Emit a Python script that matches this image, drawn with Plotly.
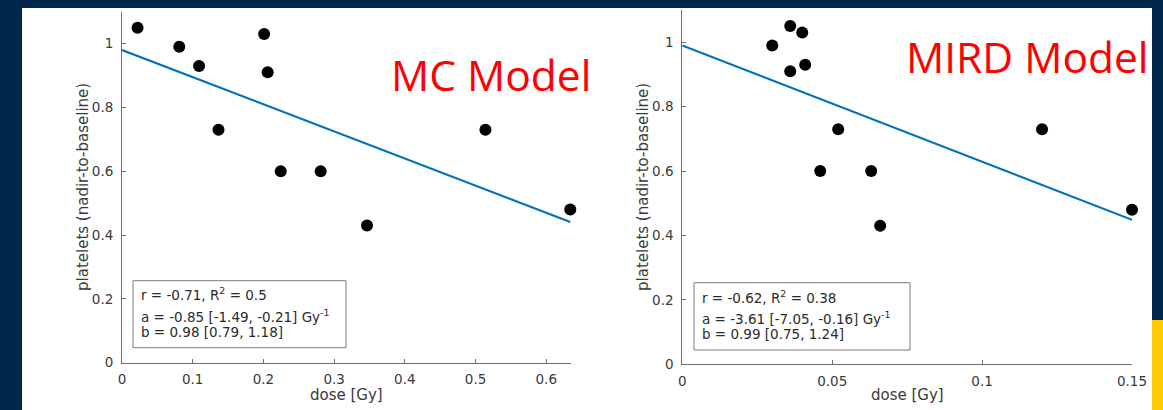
import plotly.graph_objects as go

# ---- data ----
dose_mc = [0.022, 0.081, 0.109, 0.1365, 0.201, 0.206, 0.2245, 0.281, 0.3465, 0.514, 0.634]
plt_mc = [1.05, 0.99, 0.93, 0.73, 1.03, 0.91, 0.60, 0.60, 0.43, 0.73, 0.48]
dose_mird = [0.030, 0.036, 0.040, 0.036, 0.041, 0.052, 0.046, 0.063, 0.066, 0.120, 0.150]
plt_mird = [0.99, 1.05, 1.03, 0.91, 0.93, 0.73, 0.60, 0.60, 0.43, 0.73, 0.48]
fit_mc = {"a": -0.85, "b": 0.98}
fit_mird = {"a": -3.61, "b": 0.99}
stats_mc = ["r = -0.71, R<sup>2</sup> = 0.5",
            "a = -0.85 [-1.49, -0.21] Gy<sup>-1</sup>",
            "b = 0.98 [0.79, 1.18]"]
stats_mird = ["r = -0.62, R<sup>2</sup> = 0.38",
              "a = -3.61 [-7.05, -0.16] Gy<sup>-1</sup>",
              "b = 0.99 [0.75, 1.24]"]
yticks = [0, 0.2, 0.4, 0.6, 0.8, 1]
xticks_mc = [0, 0.1, 0.2, 0.3, 0.4, 0.5, 0.6]
xticks_mird = [0, 0.05, 0.1, 0.15]

W, H = 1163, 410
NAVY = "#00274C"
MAIZE = "#FFCB05"
BLUE = "#0072BD"
TXT = "#3a3a3a"
AX = "#707070"
FONT = "DejaVu Sans"
BOX_FS = 13.5

def px(x):
    return x / W

def py(y):
    return 1 - y / H

fig = go.Figure()

for i, (dx, dy, fit) in enumerate([(dose_mc, plt_mc, fit_mc),
                                    (dose_mird, plt_mird, fit_mird)]):
    xa = "x" if i == 0 else "x2"
    ya = "y" if i == 0 else "y2"
    xl = [0, max(dx)]
    yl = [fit["a"] * v + fit["b"] for v in xl]
    fig.add_trace(go.Scatter(x=xl, y=yl, mode="lines", line=dict(color=BLUE, width=2.2),
                             xaxis=xa, yaxis=ya, showlegend=False, cliponaxis=False))
    fig.add_trace(go.Scatter(x=dx, y=dy, mode="markers",
                             marker=dict(color="black", size=12),
                             xaxis=xa, yaxis=ya, showlegend=False, cliponaxis=False))

axis_common = dict(showgrid=False, zeroline=False, showline=True, linecolor=AX, linewidth=1,
                   ticks="inside", ticklen=4, tickcolor=AX, automargin=False,
                   tickfont=dict(family=FONT, size=13.5, color=TXT))

fig.update_layout(
    width=W, height=H,
    margin=dict(l=0, r=0, t=0, b=0),
    paper_bgcolor=NAVY, plot_bgcolor="rgba(0,0,0,0)",
    template="none",
    xaxis=dict(domain=[px(122), px(571)], range=[0, 0.635], tickvals=xticks_mc,
               anchor="y", ticklabelstandoff=4, **axis_common),
    yaxis=dict(domain=[py(362.7), py(11.7)], range=[0, 1.1], tickvals=yticks,
               anchor="x", ticklabelstandoff=5, **axis_common),
    xaxis2=dict(domain=[px(682.3), px(1132)], range=[0, 0.15], tickvals=xticks_mird,
                anchor="y2", ticklabelstandoff=4, **axis_common),
    yaxis2=dict(domain=[py(364.3), py(10)], range=[0, 1.1], tickvals=yticks,
                anchor="x2", ticklabelstandoff=5, **axis_common),
)

shapes = [
    dict(type="rect", xref="paper", yref="paper", x0=px(22), x1=px(1152), y0=0, y1=py(8),
         fillcolor="white", line=dict(width=0), layer="below"),
    dict(type="rect", xref="paper", yref="paper", x0=px(1152), x1=1, y0=0, y1=py(320),
         fillcolor=MAIZE, line=dict(width=0), layer="below"),
    dict(type="rect", xref="paper", yref="paper", x0=px(133), x1=px(346), y0=py(347.7), y1=py(280.7),
         fillcolor="white", line=dict(color="#7a7a7a", width=1)),
    dict(type="rect", xref="paper", yref="paper", x0=px(694), x1=px(910), y0=py(350), y1=py(282.7),
         fillcolor="white", line=dict(color="#7a7a7a", width=1)),
]
fig.update_layout(shapes=shapes)

ann = []
# baselines of the three lines in each box (pixels from top)
for lines, x0, bases in [(stats_mc, 140, [301, 323, 338]), (stats_mird, 701, [303.5, 325, 339.5])]:
    for t, b in zip(lines, bases):
        ann.append(dict(text=t, xref="paper", yref="paper", x=px(x0 - 1), y=py(b + 0.24 * BOX_FS + 1),
                        xanchor="left", yanchor="bottom", showarrow=False,
                        font=dict(family=FONT, size=BOX_FS, color="#2a2a2a")))

# axis titles
for xc in [346, 907]:
    ann.append(dict(text="dose [Gy]", xref="paper", yref="paper", x=px(xc), y=py(395),
                    xanchor="center", yanchor="middle", showarrow=False,
                    font=dict(family=FONT, size=15, color=TXT)))
for xc, yc in [(83, 187), (643, 187)]:
    ann.append(dict(text="platelets (nadir-to-baseline)", xref="paper", yref="paper",
                    x=px(xc), y=py(yc), xanchor="center", yanchor="middle", textangle=-90,
                    showarrow=False, font=dict(family=FONT, size=15, color=TXT)))

# model labels
ann.append(dict(text="MC Model", xref="paper", yref="paper", x=px(389), y=py(75),
                xanchor="left", yanchor="middle", showarrow=False,
                font=dict(family="Open Sans", size=42.5, color="#FF0000")))
ann.append(dict(text="MIRD Model", xref="paper", yref="paper", x=px(904), y=py(56),
                xanchor="left", yanchor="middle", showarrow=False,
                font=dict(family="Open Sans", size=42.5, color="#FF0000")))

fig.update_layout(annotations=ann)
fig.write_html("out.html", config={"displayModeBar": False},
               post_script="document.body.style.margin='0';document.body.style.overflow='hidden';")
